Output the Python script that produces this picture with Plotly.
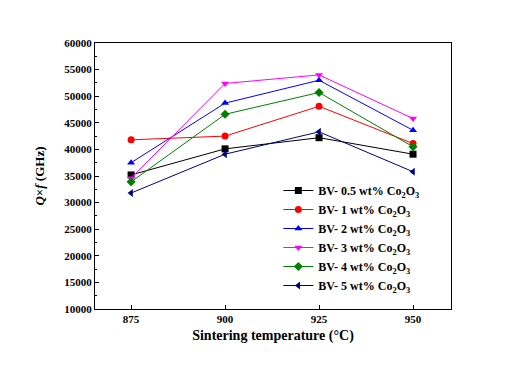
import plotly.graph_objects as go

temps = [875, 900, 925, 950]
series_names = [
    "BV- 0.5 wt% Co<sub>2</sub>O<sub>3</sub>",
    "BV- 1 wt% Co<sub>2</sub>O<sub>3</sub>",
    "BV- 2 wt% Co<sub>2</sub>O<sub>3</sub>",
    "BV- 3 wt% Co<sub>2</sub>O<sub>3</sub>",
    "BV- 4 wt% Co<sub>2</sub>O<sub>3</sub>",
    "BV- 5 wt% Co<sub>2</sub>O<sub>3</sub>",
]
qf_05 = [35200, 40100, 42200, 39100]
qf_1 = [41800, 42500, 48100, 41100]
qf_2 = [37500, 48700, 53000, 43600]
qf_3 = [34600, 52400, 54000, 45800]
qf_4 = [33900, 46600, 50700, 40500]
qf_5 = [31800, 39100, 43300, 35800]
y_ticks = [10000, 15000, 20000, 25000, 30000, 35000, 40000, 45000, 50000, 55000, 60000]

values = [qf_05, qf_1, qf_2, qf_3, qf_4, qf_5]
colors = ["#000000", "#ff0000", "#0000ff", "#ff00ff", "#008000", "#000080"]
symbols = ["square", "circle", "triangle-up", "triangle-down", "diamond", "triangle-left"]

fig = go.Figure()
for name, vals, c, s in zip(series_names, values, colors, symbols):
    fig.add_trace(go.Scatter(
        x=temps, y=vals, name=name, mode="lines+markers",
        line=dict(color=c, width=1),
        marker=dict(symbol=s, size=7, color=c),
    ))

font_fam = "Liberation Serif, Times New Roman, serif"
fig.update_layout(
    width=526, height=374,
    margin=dict(l=87, r=83, t=35, b=73),
    paper_bgcolor="white", plot_bgcolor="white",
    font=dict(family=font_fam, color="black"),
    showlegend=True,
    legend=dict(
        x=0.515, y=0.50, xanchor="left", yanchor="top",
        bgcolor="rgba(0,0,0,0)", borderwidth=0,
        font=dict(family=font_fam, size=12, weight="bold"),
        tracegroupgap=0, itemwidth=30,
    ),
)
fig.update_xaxes(
    range=[865.4, 960.1], tickvals=temps, ticktext=[str(t) for t in temps],
    ticks="inside", ticklen=4, tickcolor="black",
    showline=True, linecolor="black", linewidth=1, mirror=True,
    showgrid=False, zeroline=False, automargin=False,
    tickfont=dict(family=font_fam, size=11, weight="bold"),
    title=dict(text="Sintering temperature (°C)", font=dict(family=font_fam, size=14, weight="bold"), standoff=5),
)
fig.update_yaxes(
    range=[10000, 60000], tickvals=y_ticks, ticktext=[str(v) for v in y_ticks],
    ticks="inside", ticklen=4, tickcolor="black",
    minor=dict(ticks="inside", dtick=2500, ticklen=2, tickcolor="black"),
    showline=True, linecolor="black", linewidth=1, mirror=True,
    showgrid=False, zeroline=False, automargin=False,
    tickfont=dict(family=font_fam, size=11, weight="bold"),
    title=dict(text="<i>Q</i>×<i>f</i> (GHz)", font=dict(family=font_fam, size=13, weight="bold"), standoff=16),
)

fig.write_html("out.html")
